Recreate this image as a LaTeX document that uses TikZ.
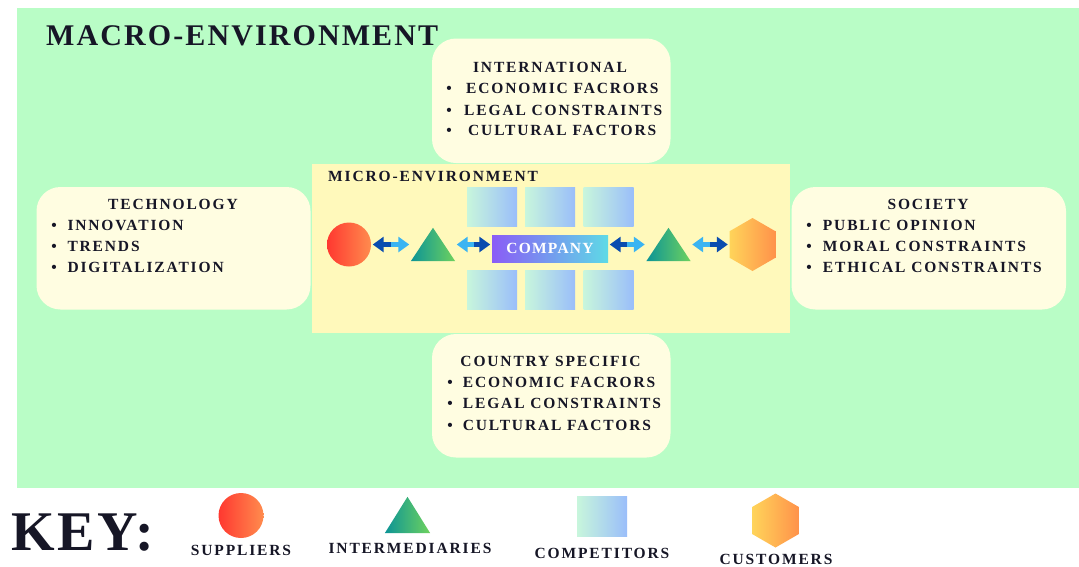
\documentclass[tikz,border=0pt]{standalone}
\usepackage{fontspec}
\setmainfont{Liberation Serif}
\newfontfamily\itemfont[LetterSpace=12]{Liberation Serif}
\newfontfamily\headfont[LetterSpace=7]{Liberation Serif}
\newfontfamily\keyfont[LetterSpace=5]{Liberation Serif}
\newfontfamily\compfont[LetterSpace=8]{Liberation Serif}
\usetikzlibrary{shapes.geometric,arrows.meta,calc}

\definecolor{macrobg}{RGB}{185,253,198}
\definecolor{cream}{RGB}{255,253,225}
\definecolor{microbg}{RGB}{255,249,187}
\definecolor{ink}{RGB}{22,22,38}
\definecolor{supL}{RGB}{255,56,48}
\definecolor{supR}{RGB}{255,140,78}
\definecolor{intL}{RGB}{12,148,150}
\definecolor{intR}{RGB}{110,210,94}
\definecolor{cmpL}{RGB}{200,246,220}
\definecolor{cmpR}{RGB}{154,190,250}
\definecolor{cusL}{RGB}{255,212,90}
\definecolor{cusR}{RGB}{255,146,74}
\definecolor{coL}{RGB}{138,92,246}
\definecolor{coR}{RGB}{94,218,230}
\definecolor{arrD}{RGB}{10,76,175}
\definecolor{arrL}{RGB}{58,180,242}

\begin{document}
\begin{tikzpicture}[x=1pt,y=-1pt,
  panel/.style={fill=cream, rounded corners=24pt, inner sep=0pt},
  txt/.style={text=ink, inner sep=0pt, font=\itemfont\bfseries\fontsize{15.5}{17}\selectfont},
  ttl/.style={txt, anchor=base},
  bul/.style={txt, anchor=base},
  itm/.style={txt, anchor=base west},
  supplier/.style={circle, inner sep=0pt, minimum size=#1, left color=supL, right color=supR},
  customer/.style={regular polygon, regular polygon sides=6, shape border rotate=90,
    inner sep=0pt, minimum size=#1, left color=cusL, right color=cusR},
  competitor/.style={rectangle, inner sep=0pt, minimum width=50pt, minimum height=#1,
    left color=cmpL, right color=cmpR},
  trianglebox/.style={rectangle, inner sep=0pt, minimum width=#1},
  darkhalf/.style={arrD, line width=4.4pt, -{Triangle[length=11pt,width=15pt]}, shorten >=1.5pt},
  lighthalf/.style={arrL, line width=4.4pt, -{Triangle[length=11pt,width=15pt]}, shorten >=1.5pt}
]
\useasboundingbox (0,0) rectangle (1079,566);
\fill[white] (0,0) rectangle (1079,566);

% macro-environment background
\node[fill=macrobg, inner sep=0pt, minimum width=1062.5pt, minimum height=480pt] (macro) at (547.75,248) {};
\node[text=ink, inner sep=0pt, anchor=base west, font=\headfont\bfseries\fontsize{30}{32}\selectfont]
  (macroT) at (46,45) {MACRO-ENVIRONMENT};

% outer factor panels
\node[panel, minimum width=238.5pt, minimum height=124.5pt] (intl) at (551.25,100.75) {};
\node[panel, minimum width=238.5pt, minimum height=123.5pt] (ctry) at (551.25,395.75) {};
\node[panel, minimum width=274pt, minimum height=122.5pt] (tech) at (173.5,248.25) {};
\node[panel, minimum width=274.5pt, minimum height=122.5pt] (soc) at (928.75,248.25) {};

% international
\node[ttl] (intlT) at (550,72) {INTERNATIONAL};
\node[bul] (intlB1) at (449,93) {•};
\node[itm] (intl1) at (466,93) {ECONOMIC FACRORS};
\node[bul] (intlB2) at (449,115) {•};
\node[itm] (intl2) at (464,115) {LEGAL CONSTRAINTS};
\node[bul] (intlB3) at (449,135.5) {•};
\node[itm] (intl3) at (468,135.5) {CULTURAL FACTORS};

% country specific
\node[ttl] (ctryT) at (550.5,366.5) {COUNTRY SPECIFIC};
\node[bul] (ctryB1) at (450,387.5) {•};
\node[itm] (ctry1) at (462.7,387.5) {ECONOMIC FACRORS};
\node[bul] (ctryB2) at (450,408.8) {•};
\node[itm] (ctry2) at (462.7,408.8) {LEGAL CONSTRAINTS};
\node[bul] (ctryB3) at (450,430) {•};
\node[itm] (ctry3) at (462.7,430) {CULTURAL FACTORS};

% technology
\node[ttl] (techT) at (173,209) {TECHNOLOGY};
\node[bul] (techB1) at (54,230) {•};
\node[itm] (tech1) at (67.3,230) {INNOVATION};
\node[bul] (techB2) at (54,251.5) {•};
\node[itm] (tech2) at (67.3,251.5) {TRENDS};
\node[bul] (techB3) at (54,272.5) {•};
\node[itm] (tech3) at (67.3,272.5) {DIGITALIZATION};

% society
\node[ttl] (socT) at (928,209) {SOCIETY};
\node[bul] (socB1) at (809,230) {•};
\node[itm] (soc1) at (822.7,230) {PUBLIC OPINION};
\node[bul] (socB2) at (809,251.5) {•};
\node[itm] (soc2) at (822.7,251.5) {MORAL CONSTRAINTS};
\node[bul] (socB3) at (809,272.5) {•};
\node[itm] (soc3) at (822.7,272.5) {ETHICAL CONSTRAINTS};

% micro-environment
\node[fill=microbg, inner sep=0pt, minimum width=478pt, minimum height=169.5pt] (micro) at (550.5,248.25) {};
\node[itm] (microT) at (328,181) {MICRO-ENVIRONMENT};

% competitors around the company
\node[competitor=39pt] (cA) at (492,206.5) {};
\node[competitor=39pt] (cB) at (550,206.5) {};
\node[competitor=39pt] (cC) at (608.5,206.5) {};
\node[competitor=39pt] (cD) at (492,289.5) {};
\node[competitor=39pt] (cE) at (550,289.5) {};
\node[competitor=39pt] (cF) at (608.5,289.5) {};

% supply chain
\node[supplier=44pt] (sup) at (349,244.5) {};
\node[trianglebox=44pt, minimum height=33pt] (int1) at (433,244.5) {};
\shade[left color=intL, right color=intR] (int1.south west) -- (int1.north) -- (int1.south east) -- cycle;
\node[rectangle, inner sep=0pt, minimum width=116pt, minimum height=27pt, left color=coL, right color=coR,
  text=white, font=\compfont\bfseries\fontsize{15.5}{16}\selectfont] (comp) at (550,248.7) {COMPANY};
\node[trianglebox=44pt, minimum height=33pt] (int2) at (668.5,244.5) {};
\shade[left color=intL, right color=intR] (int2.south west) -- (int2.north) -- (int2.south east) -- cycle;
\node[customer=53pt] (cus) at (752.5,244.5) {};

% two-tone double arrows
\coordinate (m1) at ($(sup.east)!0.5!(int1.west)$);
\draw[darkhalf] (m1) -- (sup.east);
\draw[lighthalf] (m1) -- (int1.west);
\coordinate (m2) at ($(int1.east)!0.5!(int1.east -| comp.west)$);
\draw[lighthalf] (m2) -- (int1.east);
\draw[darkhalf] (m2) -- (int1.east -| comp.west);
\coordinate (m3) at ($(int2.west -| comp.east)!0.5!(int2.west)$);
\draw[darkhalf] (m3) -- (int2.west -| comp.east);
\draw[lighthalf] (m3) -- (int2.west);
\coordinate (m4) at ($(int2.east)!0.5!(cus.west)$);
\draw[lighthalf] (m4) -- (int2.east);
\draw[darkhalf] (m4) -- (cus.west);

% key
\node[text=ink, inner sep=0pt, anchor=base west, font=\keyfont\bfseries\fontsize{56}{60}\selectfont]
  (keyT) at (11,550) {KEY:};
\node[supplier=45pt] (kSup) at (241,515.5) {};
\node[ttl] (kSupT) at (241,555) {SUPPLIERS};
\node[trianglebox=45pt, minimum height=36pt] (kInt) at (407.5,515) {};
\shade[left color=intL, right color=intR] (kInt.south west) -- (kInt.north) -- (kInt.south east) -- cycle;
\node[ttl] (kIntT) at (410,553.5) {INTERMEDIARIES};
\node[competitor=40pt] (kCmp) at (602,516) {};
\node[ttl] (kCmpT) at (602,558.5) {COMPETITORS};
\node[customer=54pt] (kCus) at (775.5,520.5) {};
\node[ttl] (kCusT) at (776,564) {CUSTOMERS};
\end{tikzpicture}
\end{document}
